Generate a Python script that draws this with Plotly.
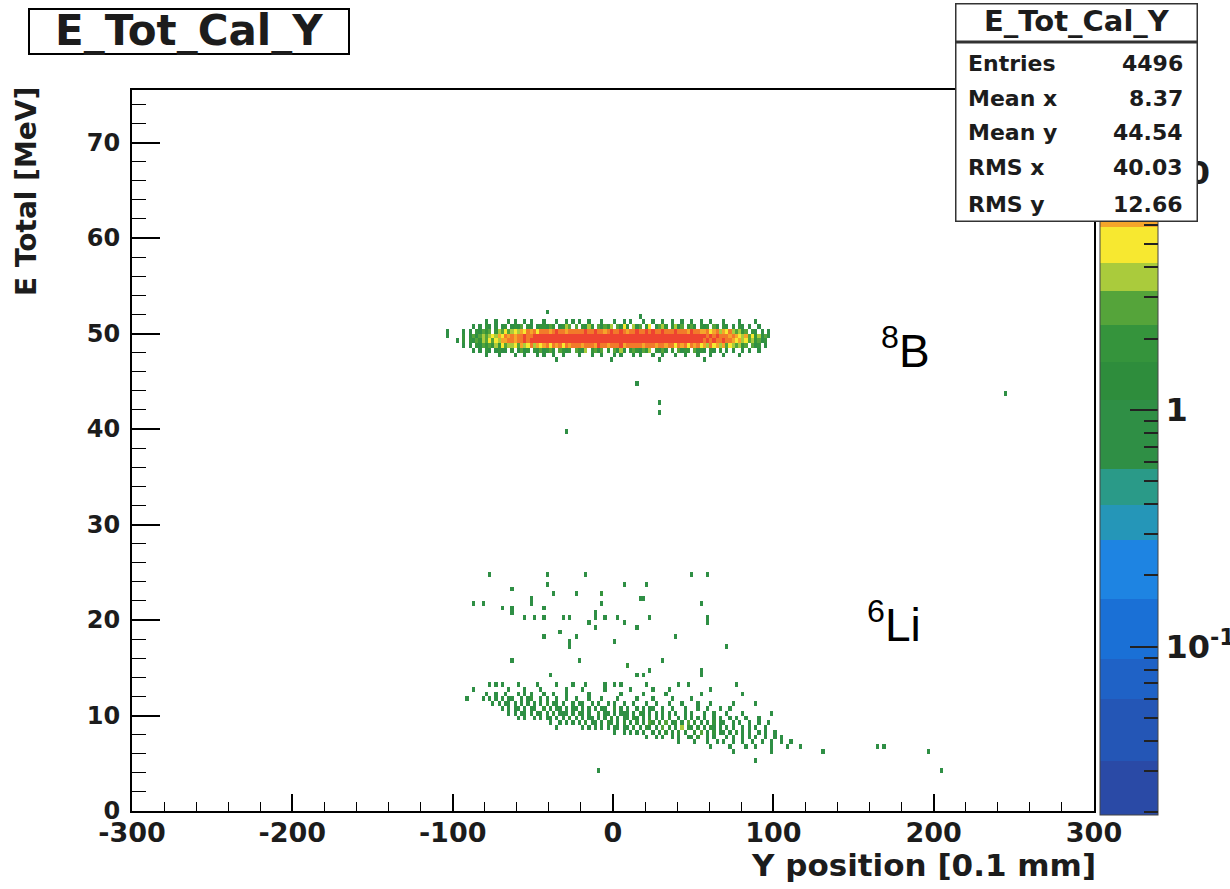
import math
import plotly.graph_objects as go

# ---------------- histogram definition (ROOT TH2, COLZ, log z) ----------------
X_MIN, X_MAX, X_BIN = -300.0, 300.0, 2.0      # Y position [0.1 mm]
Y_MIN, Y_MAX, Y_BIN = 0.0, 75.5, 0.5          # E total [MeV]

# 8B band: bin counts per row ('.'=0, 1-9, A=10, B=11 ...); first column lower edge = B_X0
B_X0 = -104
B_ROWS = [
    (51.0, "..........|..1..1...1|.1..1.1...|1...1..1.1|.1..1...1.|..1..1.1..|.1..1..1..|1..1..1..1|..1...1...|.1....1...|."),
    (50.5, "........1.|1.21.1.12.|1213.21.12|2132.1243.|3.2142.313|24.3152.41|3.25.1342.|2413.231.2|12.31.21.1|.21.1..1..|."),
    (50.0, ".....1.1.2|1323.24353|4546576857|7868A79687|879A88B796|9A87A9689A|89A7B98A79|8A9786A976|6756846574|3423.21.1.|."),
    (49.5, "1....2.131|3434546576|7698A89BAC|BDCAEBDCFB|DCEBDFCEBD|ECDFBEDCEB|DFCEBDCEAD|CBDAECBDAB|A9B8A79867|6546352413|1"),
    (49.0, "...1.2.213|2435354667|8697A9ABCA|DBECBDFCBE|CEBDGCEBDF|BDFCEBDGCE|BECDFBCEBD|ADCBEACBDA|9B8A97A876|5645342312|."),
    (48.5, ".....1.1.2|1323242534|4536457465|6758675968|7869786A78|6978A69787|8697867968|7586957685|6475646354|3423.312.1|."),
    (48.0, "........1.|1.21.1211.|2.1312.213|1231.3212.|3214.2313.|2.3141.232|1324.2131.|2.3122.312|1.21.2.1.1|..1.1..1..|."),
    (47.5, "..........|..1...1...|.1..1...1.|1..1..1...|.1...1..1.|..1.1...1.|1...1..1..|.1..1...1.|..1...1...|.1........|."),
    (47.0, "..........|..........|..........|....1.....|..........|.1........|......1...|..........|1.........|..........|."),
]

# 6Li band: bin counts per row; first column lower edge = LI_X0
LI_X0 = -92
LI_ROWS = [
    (12.0, "......1..1|..1...1.1.|1...1..1..|.1......1.|........1.|.....1....|..1.......|...1......|......1...|..........|....."),
    (11.5, "1....1.1.1|.1.11..1.1|2..1.1..1.|.1..1...1.|..1....1..|...1....1.|....1.....|1.........|..........|..........|....."),
    (11.0, "........1.|1.11.1.1.1|.1.1.2.11.|1..1.11..1|.1..1.1..1|..1...1..1|...1...1..|..1...1...|...1......|1.........|....."),
    (10.5, "..........|.1.1.11.1.|11..2.1.11|.1.11.1.1.|1.11..2.1.|1..1.1.11.|.1..1...1.|..1..1...1|..1.......|..........|....."),
    (10.0, "..........|...1.1.11.|1.11.1.2.1|11.1.21.1.|.2.11.1.11|1.1.21.1.1|.1.1.1..1.|1...1..1..|.1....1...|.....1....|....."),
    (9.5,  "..........|......1.1.|.1.1.11.1.|1.2.1.1.11|.1.1.2.1.1|1.21.1.2.1|.1.2..1.1.|1.1.1..1.1|..1.1..1..|.1........|....."),
    (9.0,  "..........|..........|......1..1|.1.1.1.2.1|1.1.21.1.2|.1.2.1.32.|2.3.12.1.3|.2.1.1.2.1|1..1.1..1.|.1..1.....|....."),
    (8.5,  "..........|..........|........1.|......1.1.|1.1.1.11.1|1.2.1.21.1|.3.2.1.4.2|1.2.1.21.1|.1.1..1.1.|1..1......|....."),
    (8.0,  "..........|..........|..........|..........|......1..1|.1.1.1..1.|1.2.1.2.1.|.2.3.1.2.1|1.1.2.1.1.|.1.1..1...|....."),
    (7.5,  "..........|..........|..........|..........|..........|......1..1|.1..1.1..1|1.2..1.1..|.1.1..1.1.|1..1..1.1.|....."),
    (7.0,  "..........|..........|..........|..........|..........|..........|......1...|.1...1..1.|1..1..1..1|..1..1..1.|.1..."),
    (6.5,  "..........|..........|..........|..........|..........|..........|..........|......1...|..1....1..|1....1....|1...1"),
]

# isolated single entries (x [0.1 mm], E [MeV])
SPARSE_X = [-78, -42, -17, 48, 59, -41, 7, 21, -64, -37, -24, -8, -8, -52, 17, 19, -87, -82, -8, 54,
            -52, -63, -70, -44, -63, -12, 58, -27, -12, 2, -56, -49, -43, -32, -5, 22, 58, 6, -16, -12,
            15, -34, -44, 38, -24, -27, 1, -28, 70,
            -64, -22, 31, 9, 9, 22, 54, 54, -40, 14, 18,
            -77, -73, -70, -59, -47, -36, -26, -17, -6, 0, 5, 21, 40, 47, 77,
            -87, -65, -55, -45, -30, -20, -5, 10, 25, 35, 60,
            -10, 89, 75, 98, 130, 164, 168, 197, 205,
            -41, 17, -103, 97, 14, 29, 29, -29, 244]
SPARSE_Y = [24.9, 24.9, 24.5, 24.5, 24.5, 23.9, 23.5, 23.5, 23.0, 22.6, 22.6, 22.6, 22.6, 22.0, 22.0, 22.0, 21.8, 21.8, 21.6, 21.6,
            21.5, 21.4, 21.0, 21.0, 20.9, 20.7, 20.4, 20.4, 20.2, 20.2, 20.0, 20.0, 20.0, 20.0, 20.0, 20.0, 19.9, 19.8, 19.6, 19.1,
            19.0, 18.8, 18.1, 18.1, 18.0, 17.9, 17.5, 17.4, 17.1,
            15.6, 15.5, 15.5, 15.2, 15.2, 14.8, 14.8, 14.3, 14.0, 14.0, 14.0,
            13.2, 13.2, 13.2, 13.2, 13.2, 13.2, 13.2, 13.2, 13.2, 13.2, 13.2, 13.2, 13.4, 13.4, 13.3,
            12.7, 12.7, 12.7, 12.7, 12.7, 12.7, 12.7, 12.7, 12.7, 12.7, 12.7,
            4.2, 5.2, 6.2, 6.1, 6.0, 6.8, 6.8, 6.3, 4.3,
            52.0, 51.6, 50.1, 50.1, 44.6, 42.5, 41.8, 39.6, 43.5]

# palette bands on log10(content): (upper edge, colour); first lower edge = Z_LOG_MIN
Z_LOG_MIN, Z_LOG_MAX = -1.71, 1.35
PALETTE = [(-1.48, "#2a4aa6"), (-1.22, "#2456b6"), (-1.05, "#1f62c6"), (-0.80, "#1a70d6"),
           (-0.55, "#1e84e2"), (-0.40, "#2596b8"), (-0.25, "#2a9a88"), (0.04, "#2f8f45"),
           (0.20, "#2e8d3c"), (0.36, "#35943c"), (0.50, "#55a43a"), (0.62, "#aacb3c"),
           (0.77, "#f7e830"), (0.82, "#f5a52a"), (0.97, "#f27a2a"), (1.35, "#ee4430")]

X_TICKS = [-300, -200, -100, 0, 100, 200, 300]
STATS_LABELS = ["Entries", "Mean x", "Mean y", "RMS x", "RMS y"]
STATS_VALUES = ["4496", "8.37", "44.54", "40.03", "12.66"]
HIST_NAME = "E_Tot_Cal_Y"

# ---------------- fill histogram ----------------
NX = int(round((X_MAX - X_MIN) / X_BIN))
NY = int(round((Y_MAX - Y_MIN) / Y_BIN))
counts = [[0] * NX for _ in range(NY)]


def fill_rows(rows, x0):
    for ylow, s in rows:
        r = int(round((ylow - Y_MIN) / Y_BIN))
        s = s.replace("|", "")
        for i, ch in enumerate(s):
            if ch == ".":
                continue
            c = int(round((x0 + X_BIN * i - X_MIN) / X_BIN))
            counts[r][c] += int(ch, 36)


fill_rows(B_ROWS, B_X0)
fill_rows(LI_ROWS, LI_X0)
for xv, yv in zip(SPARSE_X, SPARSE_Y):
    c = int(math.floor((xv - X_MIN) / X_BIN))
    r = int(math.floor((yv - Y_MIN) / Y_BIN))
    counts[r][c] += 1

zlog = [[(math.log10(v) if v > 0 else None) for v in row] for row in counts]

# discrete colour scale
span = Z_LOG_MAX - Z_LOG_MIN
colorscale = []
lo = Z_LOG_MIN
for hi, col in PALETTE:
    colorscale.append([(lo - Z_LOG_MIN) / span, col])
    colorscale.append([(hi - Z_LOG_MIN) / span, col])
    lo = hi
colorscale[-1][0] = 1.0

major_vals, major_text, minor_vals = [], [], []
for d in (-2, -1, 0, 1):
    for k in range(1, 10):
        v = math.log10(k) + d
        if Z_LOG_MIN <= v <= Z_LOG_MAX:
            if k == 1:
                major_vals.append(v)
                major_text.append({-1: "10<sup>-1</sup>", 0: "1", 1: "10"}[d])
            else:
                minor_vals.append(v)

# ---------------- figure ----------------
W, H = 1230, 889
ML, MR, MT, MB = 132, 136, 90, 78
PW, PH = W - ML - MR, H - MT - MB


def px(xp):
    return (xp - ML) / PW


def py(yp):
    return (H - MB - yp) / PH


BOLD = "DejaVu Sans"
INK = "#1c1c1c"
CB_POS = dict(x=px(1100), xanchor="left", xpad=0, ypad=0,
              y=py((90 + 815) / 2), yanchor="middle", lenmode="pixels", len=725,
              thickness=58, thicknessmode="pixels")

fig = go.Figure()
fig.add_trace(go.Heatmap(
    z=zlog, x0=X_MIN + X_BIN / 2, dx=X_BIN, y0=Y_MIN + Y_BIN / 2, dy=Y_BIN,
    zmin=Z_LOG_MIN, zmax=Z_LOG_MAX, colorscale=colorscale, zsmooth=False,
    hoverinfo="skip",
    colorbar=dict(
        **CB_POS, outlinewidth=1, outlinecolor="#444",
        tickmode="array", tickvals=major_vals, ticktext=major_text,
        ticks="inside", ticklen=28, tickwidth=1.5, tickcolor="#222",
        tickfont=dict(family=BOLD, size=32, color=INK, weight="bold"),
    ),
))
# transparent overlay scale carrying the minor (log) ticks of the colour bar
fig.add_trace(go.Scatter(
    x=[X_MIN - 100], y=[Y_MIN], mode="markers", hoverinfo="skip", showlegend=False,
    marker=dict(color=[Z_LOG_MIN], cmin=Z_LOG_MIN, cmax=Z_LOG_MAX, size=1,
                colorscale=[[0, "rgba(0,0,0,0)"], [1, "rgba(0,0,0,0)"]], showscale=True,
                colorbar=dict(**CB_POS, outlinewidth=0, bgcolor="rgba(0,0,0,0)",
                              tickmode="array", tickvals=minor_vals, showticklabels=False,
                              ticks="inside", ticklen=14, tickwidth=1.5, tickcolor="#222")),
))

axis_common = dict(showgrid=False, zeroline=False, showline=True, linecolor="black",
                   linewidth=2, mirror=True, ticks="inside", tickcolor="black", tickwidth=1.5)

fig.update_xaxes(range=[X_MIN, X_MAX], tickmode="array", tickvals=X_TICKS,
                 ticktext=[str(v) for v in X_TICKS], ticklen=17,
                 minor=dict(dtick=20, tick0=0, ticks="inside", ticklen=9, tickcolor="black", tickwidth=1),
                 tickfont=dict(family=BOLD, size=27, color=INK, weight="bold"),
                 ticklabelstandoff=-3, **axis_common)
fig.update_yaxes(range=[Y_MIN, Y_MAX], tick0=0, dtick=10, ticklen=28,
                 minor=dict(dtick=2, ticks="inside", ticklen=14, tickcolor="black", tickwidth=1),
                 tickfont=dict(family=BOLD, size=24, color=INK, weight="bold"),
                 ticklabelstandoff=5, **axis_common)

ann = []


def box(cx, cy, w, h, bw, bc):
    # empty framed white box (pixel geometry of the reference)
    return dict(xref="paper", yref="paper", x=px(cx), y=py(cy), xanchor="center", yanchor="middle",
                text=".", showarrow=False, bgcolor="white", bordercolor=bc, borderwidth=bw,
                borderpad=0, width=w, height=h, font=dict(size=8, color="white"))


def label(xp, yp, text, size, xanchor="left", **kw):
    return dict(xref="paper", yref="paper", x=px(xp), y=py(yp), xanchor=xanchor, yanchor="middle",
                text=text, showarrow=False, font=dict(family=BOLD, size=size, color=INK, weight="bold"), **kw)


# title box
ann.append(box(189, 31.5, 318, 43, 2, "black"))
ann.append(label(189, 30, HIST_NAME, 42, "center"))
# stats box body & header
ann.append(box(1076.5, 132, 240, 177, 1.5, "#333"))
ann.append(box(1076.5, 22.5, 240, 36, 1.5, "#333"))
ann.append(label(1076.5, 21, HIST_NAME, 29, "center"))
row_y = [63, 98, 133, 168, 204]
for lab, val, yy in zip(STATS_LABELS, STATS_VALUES, row_y):
    ann.append(label(966, yy, lab, 22, "left"))
    ann.append(label(1185, yy, val, 22, "right"))
# axis titles
ann.append(label(1098, 865, "Y position [0.1 mm]", 31, "right"))
ann.append(label(26, 192, "E Total [MeV]", 28, "center", textangle=-90))
# isotope labels
ann.append(dict(xref="x", yref="y", x=166, y=48.5, xanchor="left", yanchor="middle",
                text="<sup>8</sup>B", showarrow=False,
                font=dict(family="Liberation Sans", size=46, color="black")))
ann.append(dict(xref="x", yref="y", x=157, y=19.8, xanchor="left", yanchor="middle",
                text="<sup>6</sup>Li", showarrow=False,
                font=dict(family="Liberation Sans", size=46, color="black")))

fig.update_layout(width=W, height=H, margin=dict(l=ML, r=MR, t=MT, b=MB, autoexpand=False),
                  paper_bgcolor="white", plot_bgcolor="white", annotations=ann, showlegend=False)

fig.write_html("out.html", config={"displayModeBar": False},
               post_script="document.body.style.margin='0';document.body.style.overflow='hidden';")
